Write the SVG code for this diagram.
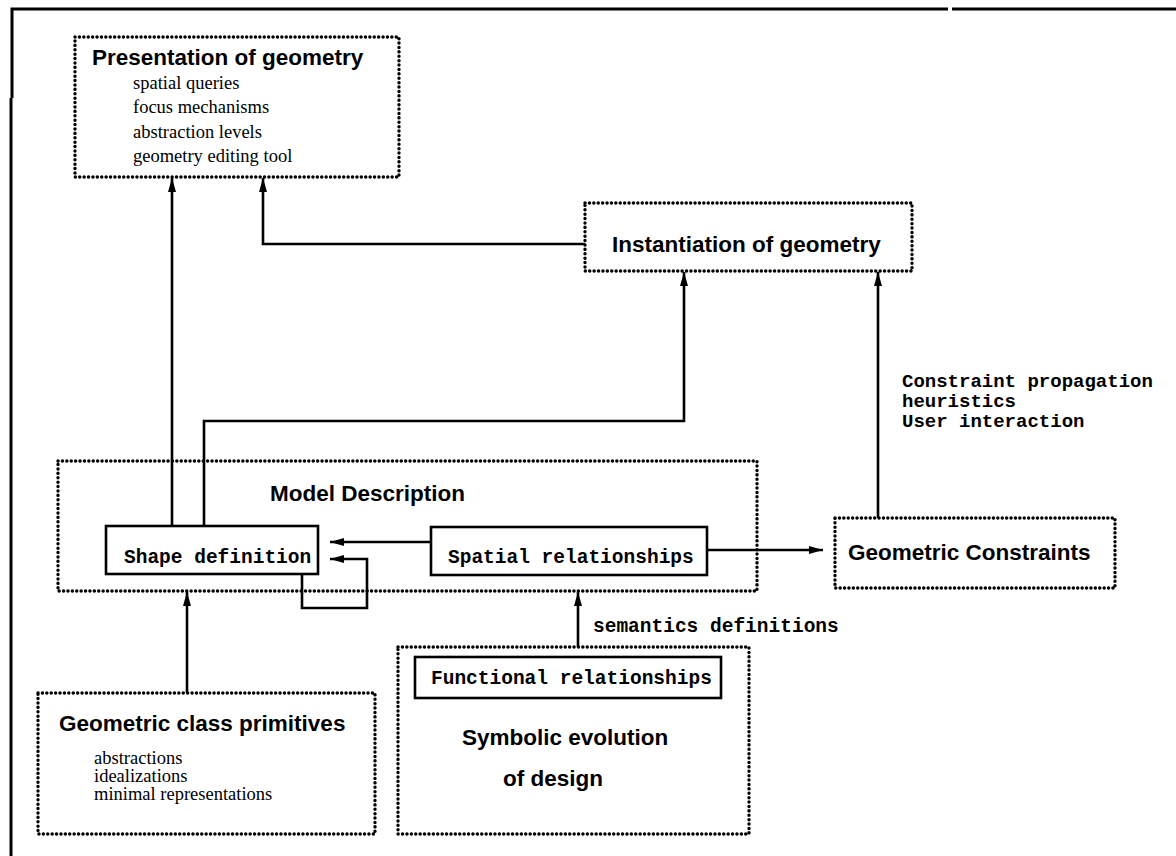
<svg xmlns="http://www.w3.org/2000/svg" width="1176" height="856" viewBox="0 0 1176 856">
  <defs>
    <marker id="arrow" viewBox="0 0 14 8" refX="14" refY="4" markerWidth="14" markerHeight="8" markerUnits="userSpaceOnUse" orient="auto">
      <path d="M0,0 L14,4 L0,8 z" fill="#000"/>
    </marker>
    <style>
      .dotted { fill: none; stroke: #000; stroke-width: 3.4; stroke-dasharray: 0.1 4.3; stroke-linecap: round; }
      .solidbox { fill: #fff; stroke: #000; stroke-width: 2.6; }
      .frame { fill: none; stroke: #000; stroke-width: 3; }
      .conn { fill: none; stroke: #000; stroke-width: 2.6; }
      .arr { marker-end: url(#arrow); }
      .title { font-family: "Liberation Sans", Arial, sans-serif; font-weight: bold; font-size: 22.5px; fill: #000; }
      .item { font-family: "Liberation Serif", "Times New Roman", serif; font-size: 18.5px; fill: #000; }
      .mono { font-family: "Liberation Mono", "Courier New", monospace; font-weight: bold; font-size: 19.5px; fill: #000; }
      .note { font-family: "Liberation Mono", "Courier New", monospace; font-weight: bold; font-size: 19px; fill: #000; }
    </style>
  </defs>

  <rect width="1176" height="856" fill="#fff"/>

  <!-- page frame -->
  <g id="frame">
    <path class="frame" d="M11,856 V98 M12,98 V9 H948 M952,9 H1176"/>
  </g>

  <!-- connectors -->
  <g id="connectors">
    <path class="conn arr" d="M172,526 V178"/>
    <path class="conn arr" d="M204,526 V421 H684 V272"/>
    <path class="conn arr" d="M585,244 H263 V178"/>
    <path class="conn arr" d="M878,518 V272"/>
    <path class="conn arr" d="M431,542 H330"/>
    <path class="conn arr" d="M302,574 V608 H367 V559 H330"/>
    <path class="conn arr" d="M707,550 H823"/>
    <path class="conn arr" d="M187,693 V592"/>
    <path class="conn arr" d="M578,647 V592"/>
  </g>

  <!-- Presentation of geometry -->
  <g id="presentation">
    <rect class="dotted" x="75" y="37" width="324" height="140"/>
    <text class="title" x="92" y="65">Presentation of geometry</text>
    <text class="item" x="133" y="89">spatial queries</text>
    <text class="item" x="133" y="113">focus mechanisms</text>
    <text class="item" x="133" y="138">abstraction levels</text>
    <text class="item" x="133" y="162">geometry editing tool</text>
  </g>

  <!-- Instantiation of geometry -->
  <g id="instantiation">
    <rect class="dotted" x="585" y="203" width="327" height="68"/>
    <text class="title" x="612" y="252">Instantiation of geometry</text>
  </g>

  <!-- constraint solving annotation -->
  <g id="constraint-notes">
    <text class="note" x="902" y="387">Constraint propagation</text>
    <text class="note" x="902" y="407">heuristics</text>
    <text class="note" x="902" y="427">User interaction</text>
  </g>

  <!-- Model Description -->
  <g id="model-description">
    <rect class="dotted" x="58" y="461" width="699" height="130"/>
    <text class="title" x="270" y="501">Model Description</text>
  </g>

  <g id="shape-definition">
    <rect class="solidbox" x="106" y="526" width="212" height="48"/>
    <text class="mono" x="124" y="563">Shape definition</text>
  </g>

  <g id="spatial-relationships">
    <rect class="solidbox" x="431" y="527" width="276" height="48"/>
    <text class="mono" x="448" y="563">Spatial relationships</text>
  </g>

  <!-- Geometric Constraints -->
  <g id="geometric-constraints">
    <rect class="dotted" x="835" y="518" width="280" height="70"/>
    <text class="title" x="848" y="560">Geometric Constraints</text>
  </g>

  <text id="semantics-label" class="mono" x="593" y="632">semantics definitions</text>

  <!-- Geometric class primitives -->
  <g id="class-primitives">
    <rect class="dotted" x="38" y="693" width="337" height="141"/>
    <text class="title" x="59" y="731">Geometric class primitives</text>
    <text class="item" x="94" y="764">abstractions</text>
    <text class="item" x="94" y="782">idealizations</text>
    <text class="item" x="94" y="800">minimal representations</text>
  </g>

  <!-- Symbolic evolution of design -->
  <g id="symbolic-evolution">
    <rect class="dotted" x="398" y="647" width="351" height="187"/>
    <rect class="solidbox" x="415" y="657" width="306" height="41"/>
    <text class="mono" x="431" y="684">Functional relationships</text>
    <text class="title" x="462" y="745">Symbolic evolution</text>
    <text class="title" x="503" y="786">of design</text>
  </g>
</svg>
